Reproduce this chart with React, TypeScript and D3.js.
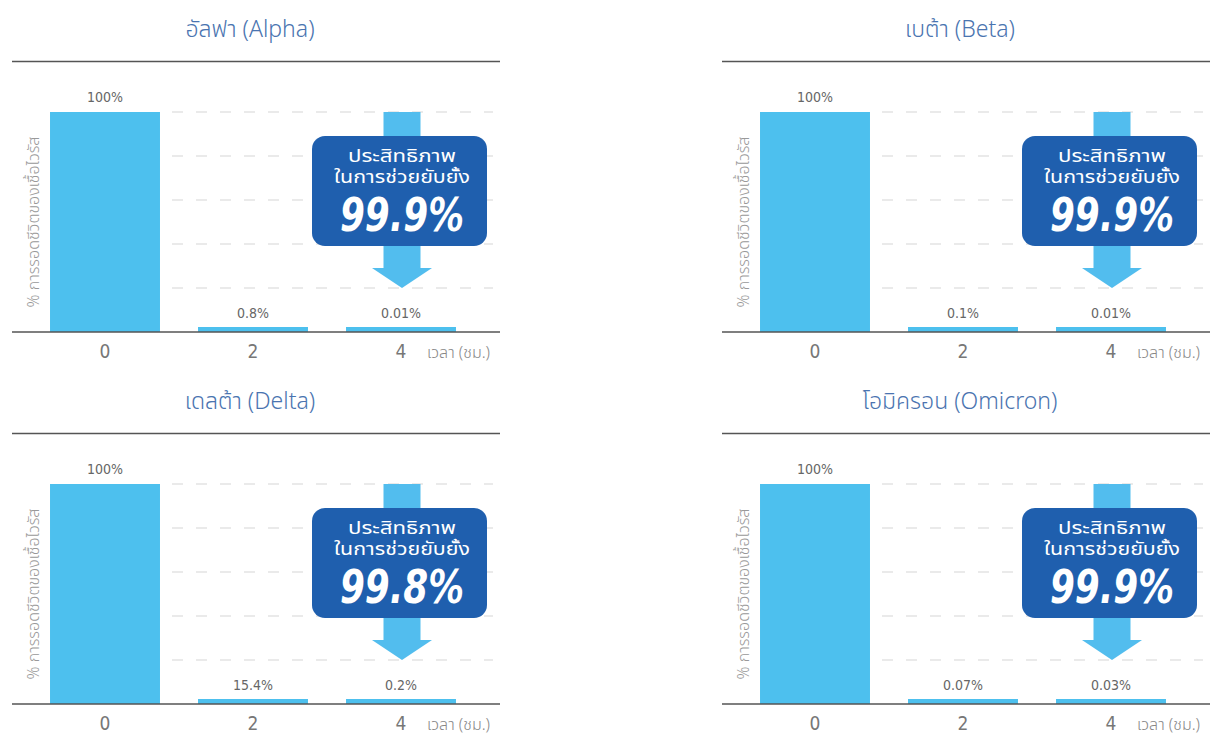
import React from "react";
import * as d3 from "d3";

// values
const variants = ["อัลฟา (Alpha)", "เบต้า (Beta)", "เดลต้า (Delta)", "โอมิครอน (Omicron)"];
const hours = ["0", "2", "4"];
const alphaSurvival = [100, 0.8, 0.01];
const betaSurvival = [100, 0.1, 0.01];
const deltaSurvival = [100, 15.4, 0.2];
const omicronSurvival = [100, 0.07, 0.03];
const efficacy = [99.9, 99.9, 99.8, 99.9];
const gridTicks = [20, 40, 60, 80, 100];

const survival = [alphaSurvival, betaSurvival, deltaSurvival, omicronSurvival];

const yLabel = "% การรอดชีวิตของเชื้อไวรัส";
const xLabel = "เวลา (ชม.)";
const boxLine1 = "ประสิทธิภาพ";
const boxLine2 = "ในการช่วยยับยั้ง";

const FONT = "'Noto Sans Thai', 'Noto Sans', 'DejaVu Sans', sans-serif";
const NUM_FONT = "'DejaVu Sans Condensed', 'Liberation Sans Narrow', 'Roboto', sans-serif";
const BAR = "#4DC0EE";
const ARROW = "#52BDEE";
const BOX = "#1F5FAE";

const W = 1216;
const H = 736;

function Panel({ title, values, eff, dx, dy }) {
  const left = 12;
  const right = 500;
  const top = 112;
  const base = 332;

  const x = d3.scaleBand().domain(hours).range([31, 475]).paddingInner(0.257).paddingOuter(0.1285);
  // gridlines sit on an even 0-100 scale
  const y = d3.scaleLinear().domain([0, 100]).range([base, top]);
  // the picture shows every reduced bar as a thin stub, so bar height is squeezed below 20%
  const barH = d3.scaleLinear().domain([0, 20, 100]).range([0, 4, base - top]);

  const fmt = (v) => `${v}%`;
  const cx = x("4") + x.bandwidth() / 2 + 1;

  // callout geometry
  const shaftW = 37;
  const headW = 60;
  const headTop = 268;
  const tip = 288;
  const arrowPath = d3.path();
  arrowPath.moveTo(cx - shaftW / 2, top);
  arrowPath.lineTo(cx + shaftW / 2, top);
  arrowPath.lineTo(cx + shaftW / 2, headTop);
  arrowPath.lineTo(cx + headW / 2, headTop);
  arrowPath.lineTo(cx, tip);
  arrowPath.lineTo(cx - headW / 2, headTop);
  arrowPath.lineTo(cx - shaftW / 2, headTop);
  arrowPath.closePath();

  return (
    <g transform={`translate(${dx},${dy})`}>
      <text
        x={250}
        y={37}
        textAnchor="middle"
        fontFamily={FONT}
        fontSize={23}
        fontWeight={300}
        fill="#4A74B0"
      >
        {title}
      </text>
      <line x1={left} x2={right} y1={61.5} y2={61.5} stroke="#555" strokeWidth={1.6} />

      {gridTicks.map((t) => (
        <line
          key={t}
          x1={172}
          x2={493}
          y1={y(t)}
          y2={y(t)}
          stroke="#d6d6d6"
          strokeWidth={1.2}
          strokeDasharray="11,13"
        />
      ))}

      {values.map((v, i) => {
        const h = Math.max(5, barH(v));
        return (
          <g key={i}>
            <rect x={x(hours[i])} y={base - h} width={x.bandwidth()} height={h} fill={BAR} />
            <text
              x={x(hours[i]) + x.bandwidth() / 2}
              y={i === 0 ? top - 10 : 318}
              textAnchor="middle"
              fontFamily={NUM_FONT}
              fontSize={14}
              fill="#666"
            >
              {fmt(v)}
            </text>
            <text
              x={x(hours[i]) + x.bandwidth() / 2}
              y={358}
              textAnchor="middle"
              fontFamily={NUM_FONT}
              fontSize={19}
              fill="#777"
            >
              {hours[i]}
            </text>
          </g>
        );
      })}

      <path d={arrowPath.toString()} fill={ARROW} />
      <rect x={312} y={136} width={175} height={110} rx={13} fill={BOX} />
      <text
        x={cx}
        y={162}
        textAnchor="middle"
        fontFamily={FONT}
        fontSize={17}
        fill="#fff"
        textLength={108}
        lengthAdjust="spacingAndGlyphs"
      >
        {boxLine1}
      </text>
      <text
        x={cx}
        y={183}
        textAnchor="middle"
        fontFamily={FONT}
        fontSize={17}
        fill="#fff"
        textLength={136}
        lengthAdjust="spacingAndGlyphs"
      >
        {boxLine2}
      </text>
      <text
        x={cx}
        y={231}
        textAnchor="middle"
        fontFamily={NUM_FONT}
        fontSize={46}
        fontWeight="bold"
        fontStyle="italic"
        fill="#fff"
        textLength={124}
        lengthAdjust="spacingAndGlyphs"
      >
        {`${eff}%`}
      </text>

      <line x1={left} x2={right} y1={base} y2={base} stroke="#555" strokeWidth={1.6} />

      <text
        transform={`translate(39,222) rotate(-90)`}
        textAnchor="middle"
        fontFamily={FONT}
        fontSize={16}
        fontWeight={300}
        fill="#999"
      >
        {yLabel}
      </text>
      <text x={427} y={358} fontFamily={FONT} fontSize={16} fontWeight={300} fill="#888">
        {xLabel}
      </text>
    </g>
  );
}

export default function App() {
  const offsets = [
    [0, 0],
    [710, 0],
    [0, 372],
    [710, 372],
  ];
  return (
    <svg
      width={W}
      height={H}
      style={{ position: "absolute", left: 0, top: 0, background: "#fff" }}
    >
      {variants.map((v, i) => (
        <Panel
          key={v}
          title={v}
          values={survival[i]}
          eff={efficacy[i]}
          dx={offsets[i][0]}
          dy={offsets[i][1]}
        />
      ))}
    </svg>
  );
}
